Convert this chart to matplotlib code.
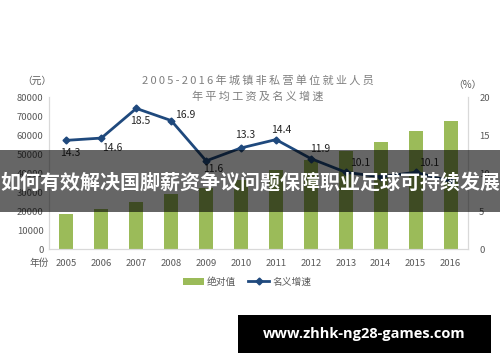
"""城镇非私营单位就业人员年平均工资及名义增速（柱线双轴图）。"""
import matplotlib
matplotlib.use("Agg")
import matplotlib.pyplot as plt
from matplotlib.patches import Rectangle

plt.rcParams["font.family"] = ["Noto Sans CJK SC", "DejaVu Sans"]
plt.rcParams["axes.unicode_minus"] = False

years = ["2005", "2006", "2007", "2008", "2009", "2010",
         "2011", "2012", "2013", "2014", "2015", "2016"]
wage = [18200, 20856, 24721, 29229, 32244, 36539,
        41799, 46769, 51483, 56360, 62029, 67569]
growth = [14.3, 14.6, 18.5, 16.9, 11.6, 13.3, 14.4, 11.9, 10.1, 9.5, 10.1, 8.9]
left_ticks = [0, 10000, 20000, 30000, 40000, 50000, 60000, 70000, 80000]
right_ticks = [0, 5, 10, 15, 20]
title_1 = "2005-2016年城镇非私营单位就业人员"
title_2 = "年平均工资及名义增速"

# 标签偏移（点），按图中位置摆放；None 表示图中没有标签
label_offsets = [(3, -9), (8, -7), (3, -9), (10, 4), (5, -6), (3, 9),
                 (4, 7), (6.5, 7), (10, 7), None, (10, 7), None]

GREEN = "#9BBB59"
NAVY = "#1F497D"
GRAY = "#595959"
SPINE = "#D9D9D9"


def spaced(s):
    # 标题字间距稍宽
    return "\u2009".join(s)


fig = plt.figure(figsize=(5.0, 3.62), dpi=100)
ax = fig.add_axes([0.098, 0.312, 0.838, 0.42])
x = list(range(len(years)))
ax.bar(x, wage, width=0.4, color=GREEN, zorder=2, label="绝对值")
ax.set_ylim(0, 80000)
ax.set_xlim(-0.5, len(years) - 0.5)
ax.set_yticks(left_ticks)
ax.set_xticks(x)
ax.set_xticklabels(years)
ax.tick_params(axis="both", length=0, colors=GRAY, labelsize=6.8, pad=4)
ax.tick_params(axis="x", pad=7)
ax.spines["top"].set_visible(False)
for side in ["left", "bottom", "right"]:
    ax.spines[side].set_color(SPINE)
    ax.spines[side].set_linewidth(0.8)

ax2 = ax.twinx()
ax2.plot(x, growth, color=NAVY, lw=2, marker="D", ms=3.5, zorder=3, label="名义增速")
ax2.set_ylim(0, 20)
ax2.set_yticks(right_ticks)
ax2.tick_params(axis="y", length=0, colors=GRAY, labelsize=6.8, pad=8)
ax2.spines["top"].set_visible(False)
for side in ["left", "bottom", "right"]:
    ax2.spines[side].set_color(SPINE)
    ax2.spines[side].set_linewidth(0.8)

for i, v in enumerate(growth):
    if label_offsets[i] is None:
        continue
    ax2.annotate(f"{v}", (i, v), xytext=label_offsets[i], textcoords="offset points",
                 ha="center", va="center", fontsize=7.5, color="#262626")

fig.text(0.045, 0.778, "（元）", fontsize=7, color=GRAY, ha="left", va="center")
fig.text(0.906, 0.766, "（%）", fontsize=7, color=GRAY, ha="left", va="center")
fig.text(0.06, 0.273, "年份", fontsize=7, color=GRAY, ha="left", va="center")
fig.text(0.516, 0.777, spaced(title_1), fontsize=8,
         color="#7F7F7F", ha="center", va="center")
fig.text(0.516, 0.733, spaced(title_2), fontsize=8,
         color="#7F7F7F", ha="center", va="center")

h1, l1 = ax.get_legend_handles_labels()
h2, l2 = ax2.get_legend_handles_labels()
fig.legend(h1 + h2, l1 + l2, loc="center", bbox_to_anchor=(0.494, 0.221), ncol=2,
           frameon=False, fontsize=7, labelcolor=GRAY, handlelength=2.2,
           handleheight=0.8, columnspacing=1.2, handletextpad=0.3)

# 覆盖在图上的半透明横幅
fig.patches.append(Rectangle((0, 0.414), 1, 0.171, transform=fig.transFigure,
                             facecolor="black", alpha=0.6, zorder=10))
fig.text(0.5, 0.497, "如何有效解决国脚薪资争议问题保障职业足球可持续发展",
         fontsize=14.4, fontweight="bold", color="white", ha="center", va="center",
         zorder=11)

# 右下角网址框
fig.patches.append(Rectangle((0.476, 0.025), 0.506, 0.105, transform=fig.transFigure,
                             facecolor="black", zorder=10))
fig.text(0.729, 0.078, "www.zhhk-ng28-games.com", fontsize=10.5, fontweight="bold",
         color="white", ha="center", va="center", zorder=11,
         family=["Open Sans", "DejaVu Sans"])

fig.savefig("out.png", dpi=100)
